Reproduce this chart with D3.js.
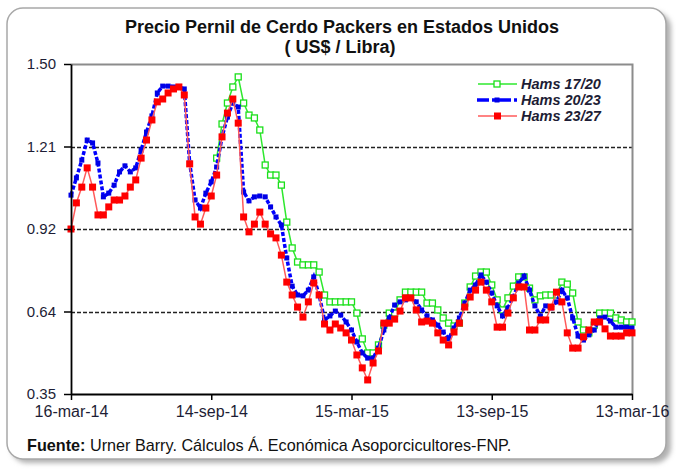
<!DOCTYPE html>
<html>
<head>
<meta charset="utf-8">
<script src="https://cdn.jsdelivr.net/npm/d3@7"></script>
<style>
  body { margin: 0; background: #fff; }
  svg { display: block; }
</style>
</head>
<body>
<svg id="chart"></svg>
<script>
// weekly prices, US$ / lb, starting 16-mar-14
var startDate = Date.UTC(2014, 2, 16);

var seriesNames = ["Hams 17/20", "Hams 20/23", "Hams 23/27"];

var hams1720 = [
  null,null,null,null,null,null,null,null,null,null,
  null,null,null,null,null,null,null,null,null,null,
  null,null,null,null,null,null,null,
  1.172,1.291,1.364,1.420,1.455,1.364,1.322,1.312,1.270,
  1.148,1.113,1.113,1.078,
  0.949,0.859,0.810,0.800,0.800,0.800,0.775,0.695,
  0.671,0.671,0.671,0.671,0.671,
  0.632,0.542,0.493,0.493,0.521,
  0.590,0.632,0.632,0.678,0.705,0.705,0.705,0.705,
  0.667,0.667,0.643,0.615,0.597,0.587,0.597,
  0.667,0.723,0.761,0.775,0.775,
  0.730,0.678,0.643,0.685,0.726,0.758,0.758,
  0.719,0.678,0.692,0.695,0.695,0.695,
  0.740,0.733,0.702,0.601,0.573,0.563,0.590,
  0.632,0.632,0.632,0.615,0.608,0.601,0.601
];

var hams2023 = [
  1.043,1.103,1.165,1.235,1.225,1.155,1.037,1.050,1.078,1.124,
  1.145,1.124,1.138,1.200,1.263,1.319,1.399,1.423,1.423,1.420,
  1.420,1.413,1.155,1.026,0.998,1.050,1.089,1.141,1.246,1.315,
  1.364,1.350,1.054,1.023,1.037,1.040,1.037,1.002,0.967,0.939,
  0.824,0.726,0.695,0.692,0.712,0.758,0.695,0.608,0.622,0.639,
  0.625,0.601,0.573,0.531,0.493,0.475,0.475,0.510,0.573,0.615,
  0.660,0.671,0.678,0.685,0.671,0.643,0.622,0.608,0.590,0.566,
  0.542,0.580,0.615,0.667,0.712,0.730,0.765,0.740,0.702,0.657,
  0.622,0.650,0.688,0.737,0.761,0.712,0.657,0.622,0.657,0.650,
  0.671,0.712,0.685,0.615,0.552,0.538,0.556,0.573,0.615,0.618,
  0.604,0.583,0.583,0.583,0.580
];

var hams2327 = [
  0.925,1.016,1.071,1.138,1.071,0.974,0.974,1.002,1.026,1.026,
  1.040,1.071,1.096,1.172,1.235,1.305,1.368,1.378,1.399,1.413,
  1.420,1.392,1.152,0.967,0.942,0.998,1.040,1.113,1.246,1.329,
  1.378,1.294,0.967,0.915,0.942,0.984,0.942,0.908,0.894,0.834,
  0.740,0.695,0.653,0.618,0.671,0.737,0.695,0.594,0.573,0.594,
  0.580,0.563,0.538,0.486,0.441,0.399,0.458,0.500,0.597,0.597,
  0.611,0.639,0.685,0.685,0.643,0.601,0.604,0.597,0.563,0.538,
  0.521,0.566,0.597,0.653,0.688,0.712,0.740,0.712,0.671,0.583,
  0.583,0.632,0.685,0.723,0.723,0.573,0.573,0.608,0.608,0.653,
  0.705,0.671,0.563,0.510,0.510,0.549,0.573,0.601,0.601,0.577,
  0.552,0.552,0.552,0.563,0.563
];

var yTickValues = [0.35, 0.6375, 0.925, 1.2125, 1.5];
var yTickLabels = ["0.35", "0.64", "0.92", "1.21", "1.50"];
var xTickDates = [Date.UTC(2014,2,16), Date.UTC(2014,8,14), Date.UTC(2015,2,15), Date.UTC(2015,8,13), Date.UTC(2016,2,13)];
var xTickLabels = ["16-mar-14", "14-sep-14", "15-mar-15", "13-sep-15", "13-mar-16"];

var width = 676,
    height = 469;
var plotLeft = 71, plotRight = 632, plotTop = 64, plotBottom = 394;
var FONT = "'Liberation Sans', Arial, sans-serif";
var textColor = "#1d1d35";

var svg = d3.select("#chart")
  .attr("width", width)
  .attr("height", height);

// outer rounded frame with soft shadow
var defs = svg.append("defs");
defs.append("filter").attr("id", "blur")
  .attr("x", "-5%").attr("y", "-5%").attr("width", "110%").attr("height", "110%")
  .append("feGaussianBlur").attr("stdDeviation", 2.5);

svg.append("rect")
  .attr("x", 11).attr("y", 12).attr("width", 660).attr("height", 451)
  .attr("rx", 16).attr("fill", "#b0b0b0").attr("filter", "url(#blur)");
svg.append("rect")
  .attr("x", 7).attr("y", 8).attr("width", 659).attr("height", 451)
  .attr("rx", 16).attr("fill", "#fff")
  .attr("stroke", "#a8a8a8").attr("stroke-width", 1.5);

var x = d3.scaleUtc()
  .domain([xTickDates[0], xTickDates[xTickDates.length - 1]])
  .range([plotLeft, plotRight]);

var y = d3.scaleLinear()
  .domain([0.35, 1.5])
  .range([plotBottom, plotTop]);

function toPoints(values) {
  return values.map(function(v, i) {
    return { date: startDate + i * 7 * 864e5, v: v };
  });
}

// gridlines
svg.append("g").selectAll("line")
  .data(yTickValues.slice(1, 4))
  .enter().append("line")
  .attr("x1", plotLeft).attr("x2", plotRight)
  .attr("y1", function(d) { return Math.round(y(d)) + 0.5; })
  .attr("y2", function(d) { return Math.round(y(d)) + 0.5; })
  .attr("stroke", "#222")
  .attr("stroke-width", 1.5)
  .attr("stroke-dasharray", "4,2");

// plot area border (top & right)
svg.append("path")
  .attr("d", "M" + plotLeft + "," + (plotTop + 0.5) + "H" + (plotRight + 0.5) + "V" + plotBottom)
  .attr("fill", "none")
  .attr("stroke", "#8c8c8c")
  .attr("stroke-width", 2);

// series
var line = d3.line()
  .defined(function(d) { return d.v != null; })
  .x(function(d) { return x(d.date); })
  .y(function(d) { return y(d.v); });

var green = toPoints(hams1720).filter(function(d) { return d.v != null; });
var blue = toPoints(hams2023);
var red = toPoints(hams2327);

svg.append("path").datum(green)
  .attr("d", line).attr("fill", "none")
  .attr("stroke", "#2ee82e").attr("stroke-width", 1.5);
svg.append("g").selectAll("rect").data(green).enter().append("rect")
  .attr("x", function(d) { return x(d.date) - 3; })
  .attr("y", function(d) { return y(d.v) - 3; })
  .attr("width", 6).attr("height", 6)
  .attr("fill", "#fff").attr("stroke", "#1adf1a").attr("stroke-width", 1.3);

svg.append("path").datum(blue)
  .attr("d", line).attr("fill", "none")
  .attr("stroke", "#0000ff").attr("stroke-width", 3.5)
  .attr("stroke-dasharray", "4,2");
svg.append("g").selectAll("rect").data(blue).enter().append("rect")
  .attr("x", function(d) { return x(d.date) - 2.5; })
  .attr("y", function(d) { return y(d.v) - 2.5; })
  .attr("width", 5).attr("height", 5)
  .attr("fill", "#0000e6");

svg.append("path").datum(red)
  .attr("d", line).attr("fill", "none")
  .attr("stroke", "#ff5a5a").attr("stroke-width", 1.5);
svg.append("g").selectAll("rect").data(red).enter().append("rect")
  .attr("x", function(d) { return x(d.date) - 3.5; })
  .attr("y", function(d) { return y(d.v) - 3.5; })
  .attr("width", 7).attr("height", 7)
  .attr("fill", "#ff0000");

// axes
var yAxis = d3.axisLeft(y)
  .tickValues(yTickValues)
  .tickSize(7).tickSizeOuter(0).tickPadding(8)
  .tickFormat(function(d, i) { return yTickLabels[i]; });
var gy = svg.append("g").attr("transform", "translate(" + plotLeft + ",0)").call(yAxis);

var xAxis = d3.axisBottom(x)
  .tickValues(xTickDates)
  .tickSize(6).tickSizeOuter(0).tickPadding(6)
  .tickFormat(function(d, i) { return xTickLabels[i]; });
var gx = svg.append("g").attr("transform", "translate(0," + plotBottom + ")").call(xAxis);

[gx, gy].forEach(function(g) {
  g.select(".domain").attr("stroke", "#000").attr("stroke-width", 1.8);
  g.selectAll(".tick line").attr("stroke", "#000").attr("stroke-width", 1.5);
  g.selectAll(".tick text")
    .attr("fill", textColor)
    .style("font-family", FONT)
    .style("font-size", "15px");
});
gx.selectAll(".tick text").style("font-size", "16px");

// title
svg.append("text")
  .attr("x", 342).attr("y", 33)
  .attr("text-anchor", "middle")
  .style("font-family", FONT).style("font-size", "18px").style("font-weight", "bold")
  .attr("fill", "#111")
  .text("Precio Pernil de Cerdo Packers en Estados Unidos");
svg.append("text")
  .attr("x", 340).attr("y", 53)
  .attr("text-anchor", "middle")
  .style("font-family", FONT).style("font-size", "18px").style("font-weight", "bold")
  .attr("fill", "#111")
  .text("( US$ / Libra)");

// legend
var legendY = [84, 100, 116];
var legend = svg.append("g");
legend.append("line").attr("x1", 478).attr("x2", 517).attr("y1", legendY[0]).attr("y2", legendY[0])
  .attr("stroke", "#2ee82e").attr("stroke-width", 1.5);
legend.append("rect").attr("x", 494).attr("y", legendY[0] - 3).attr("width", 6).attr("height", 6)
  .attr("fill", "#fff").attr("stroke", "#1adf1a").attr("stroke-width", 1.3);
legend.append("line").attr("x1", 477).attr("x2", 517).attr("y1", legendY[1]).attr("y2", legendY[1])
  .attr("stroke", "#0000ff").attr("stroke-width", 3.5).attr("stroke-dasharray", "12,3,4,3");
legend.append("rect").attr("x", 494.5).attr("y", legendY[1] - 2.5).attr("width", 5).attr("height", 5)
  .attr("fill", "#0000e6");
legend.append("line").attr("x1", 478).attr("x2", 517).attr("y1", legendY[2]).attr("y2", legendY[2])
  .attr("stroke", "#ff5a5a").attr("stroke-width", 1.5);
legend.append("rect").attr("x", 494).attr("y", legendY[2] - 3.5).attr("width", 7).attr("height", 7)
  .attr("fill", "#ff0000");
legend.selectAll("text").data(seriesNames).enter().append("text")
  .attr("x", 521)
  .attr("y", function(d, i) { return legendY[i] + 5; })
  .style("font-family", FONT).style("font-size", "14.5px")
  .style("font-weight", "bold").style("font-style", "italic")
  .attr("fill", textColor)
  .text(function(d) { return d; });

// source note
var note = svg.append("text")
  .attr("x", 27).attr("y", 451)
  .style("font-family", FONT).style("font-size", "16.2px")
  .attr("fill", "#111");
note.append("tspan").style("font-weight", "bold").text("Fuente: ");
note.append("tspan").text("Urner Barry. Cálculos Á. Económica Asoporcicultores-FNP.");
</script>
</body>
</html>
